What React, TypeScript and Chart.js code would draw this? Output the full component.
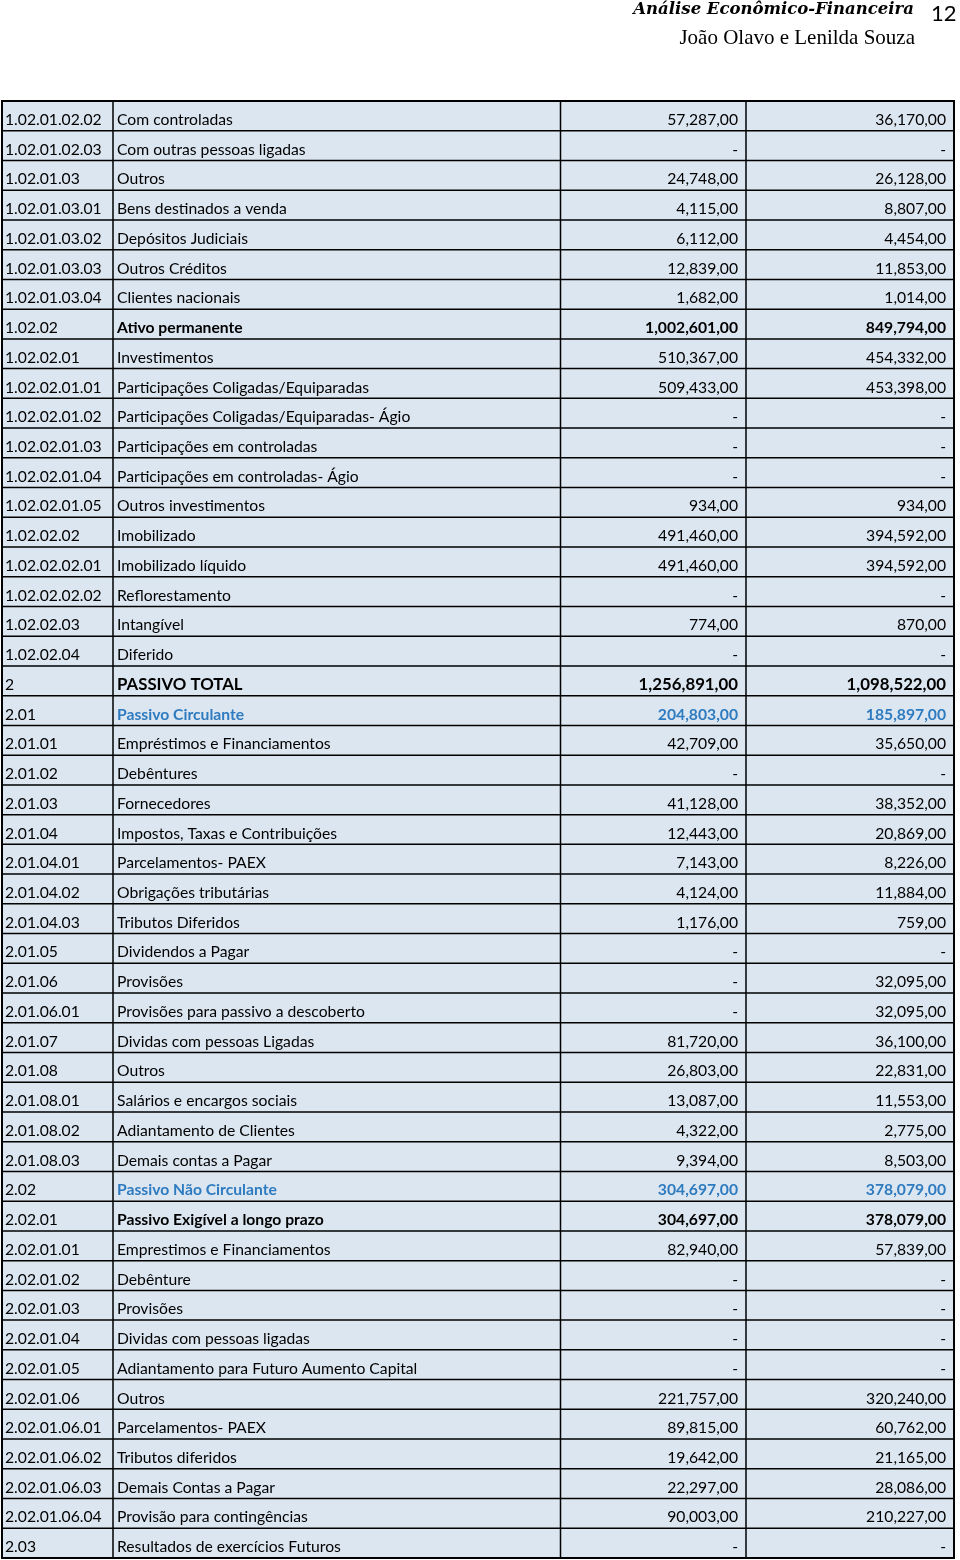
import React, { useEffect, useRef } from "react";
import { Chart, registerables } from "chart.js";
Chart.register(...registerables);

// ---------- data ----------
const codes: string[] = [
  "1.02.01.02.02", "1.02.01.02.03", "1.02.01.03", "1.02.01.03.01", "1.02.01.03.02",
  "1.02.01.03.03", "1.02.01.03.04", "1.02.02", "1.02.02.01", "1.02.02.01.01",
  "1.02.02.01.02", "1.02.02.01.03", "1.02.02.01.04", "1.02.02.01.05", "1.02.02.02",
  "1.02.02.02.01", "1.02.02.02.02", "1.02.02.03", "1.02.02.04", "2",
  "2.01", "2.01.01", "2.01.02", "2.01.03", "2.01.04",
  "2.01.04.01", "2.01.04.02", "2.01.04.03", "2.01.05", "2.01.06",
  "2.01.06.01", "2.01.07", "2.01.08", "2.01.08.01", "2.01.08.02",
  "2.01.08.03", "2.02", "2.02.01", "2.02.01.01", "2.02.01.02",
  "2.02.01.03", "2.02.01.04", "2.02.01.05", "2.02.01.06", "2.02.01.06.01",
  "2.02.01.06.02", "2.02.01.06.03", "2.02.01.06.04", "2.03",
];

const descriptions: string[] = [
  "Com controladas", "Com outras pessoas ligadas", "Outros", "Bens destinados a venda", "Depósitos Judiciais",
  "Outros Créditos", "Clientes nacionais", "Ativo permanente", "Investimentos", "Participações Coligadas/Equiparadas",
  "Participações Coligadas/Equiparadas- Ágio", "Participações em controladas", "Participações em controladas- Ágio", "Outros investimentos", "Imobilizado",
  "Imobilizado líquido", "Reflorestamento", "Intangível", "Diferido", "PASSIVO TOTAL",
  "Passivo Circulante", "Empréstimos e Financiamentos", "Debêntures", "Fornecedores", "Impostos, Taxas e Contribuições",
  "Parcelamentos- PAEX", "Obrigações tributárias", "Tributos Diferidos", "Dividendos a Pagar", "Provisões",
  "Provisões para passivo a descoberto", "Dividas com pessoas Ligadas", "Outros", "Salários e encargos sociais", "Adiantamento de Clientes",
  "Demais contas a Pagar", "Passivo Não Circulante", "Passivo Exigível a longo prazo", "Emprestimos e Financiamentos", "Debênture",
  "Provisões", "Dividas com pessoas ligadas", "Adiantamento para Futuro Aumento Capital", "Outros", "Parcelamentos- PAEX",
  "Tributos diferidos", "Demais Contas a Pagar", "Provisão para contingências", "Resultados de exercícios Futuros",
];

const valuesA: (number | null)[] = [
  57287, null, 24748, 4115, 6112,
  12839, 1682, 1002601, 510367, 509433,
  null, null, null, 934, 491460,
  491460, null, 774, null, 1256891,
  204803, 42709, null, 41128, 12443,
  7143, 4124, 1176, null, null,
  null, 81720, 26803, 13087, 4322,
  9394, 304697, 304697, 82940, null,
  null, null, null, 221757, 89815,
  19642, 22297, 90003, null,
];

const valuesB: (number | null)[] = [
  36170, null, 26128, 8807, 4454,
  11853, 1014, 849794, 454332, 453398,
  null, null, null, 934, 394592,
  394592, null, 870, null, 1098522,
  185897, 35650, null, 38352, 20869,
  8226, 11884, 759, null, 32095,
  32095, 36100, 22831, 11553, 2775,
  8503, 378079, 378079, 57839, null,
  null, null, null, 320240, 60762,
  21165, 28086, 210227, null,
];

// row emphasis (by code)
const boldRows = ["1.02.02", "2", "2.01", "2.02", "2.02.01"];
const blueRows = ["2.01", "2.02"];
const bigRows = ["2"];

// ---------- layout options ----------
const X_MAX = 952;
const colBounds = [0, 111, 558.5, 744, 952];
const FONT = "Lato, 'Open Sans', sans-serif";

function fmt(v: number | null): string {
  if (v === null) return "-";
  const s = Math.round(v).toString().replace(/\B(?=(\d{3})+(?!\d))/g, ",");
  return s + ",00";
}

const tablePlugin = {
  id: "tablePlugin",
  beforeDatasetsDraw(chart: any) {
    const { ctx, chartArea } = chart;
    ctx.save();
    ctx.fillStyle = "#dce6f1";
    ctx.fillRect(chartArea.left, chartArea.top, chartArea.right - chartArea.left, chartArea.bottom - chartArea.top);
    ctx.textBaseline = "middle";
    chart.data.datasets.forEach((ds: any, di: number) => {
      const meta = chart.getDatasetMeta(di);
      meta.data.forEach((el: any, i: number) => {
        const code = codes[i];
        const bold = di > 0 && boldRows.includes(code);
        const size = di > 0 && bigRows.includes(code) ? 16.8 : 15.7;
        ctx.font = `${bold ? "bold " : ""}${size}px ${FONT}`;
        ctx.fillStyle = blueRows.includes(code) && di > 0 ? "#2e7bbf" : "#000000";
        ctx.textAlign = ds.textAlign;
        ctx.fillText(ds.texts[i], el.x, el.y + 4);
      });
    });
    ctx.restore();
  },
  afterDatasetsDraw(chart: any) {
    const { ctx, chartArea, scales } = chart;
    const y = scales.y;
    const x = scales.x;
    const n = codes.length;
    ctx.save();
    ctx.strokeStyle = "#000000";
    ctx.lineWidth = 1.5;
    const step = n > 1 ? y.getPixelForValue(1) - y.getPixelForValue(0) : 0;
    for (let i = 1; i < n; i++) {
      const yy = y.getPixelForValue(i) - step / 2;
      ctx.beginPath();
      ctx.moveTo(chartArea.left, yy);
      ctx.lineTo(chartArea.right, yy);
      ctx.stroke();
    }
    for (let c = 1; c < colBounds.length - 1; c++) {
      const xx = x.getPixelForValue(colBounds[c]);
      ctx.beginPath();
      ctx.moveTo(xx, chartArea.top);
      ctx.lineTo(xx, chartArea.bottom);
      ctx.stroke();
    }
    ctx.lineWidth = 2;
    ctx.strokeRect(chartArea.left, chartArea.top, chartArea.right - chartArea.left, chartArea.bottom - chartArea.top);
    ctx.restore();
  },
};

function App() {
  const ref = useRef<HTMLCanvasElement | null>(null);
  useEffect(() => {
    if (!ref.current) return;
    const mk = (xv: number) => codes.map((c) => ({ x: xv, y: c }));
    const chart = new Chart(ref.current, {
      type: "scatter",
      data: {
        datasets: [
          { label: "Código", data: mk(colBounds[0] + 3), texts: codes, textAlign: "left", pointRadius: 0 } as any,
          { label: "Descrição", data: mk(colBounds[1] + 4), texts: descriptions, textAlign: "left", pointRadius: 0 } as any,
          { label: "Valor A", data: mk(colBounds[3] - 8), texts: valuesA.map(fmt), textAlign: "right", pointRadius: 0 } as any,
          { label: "Valor B", data: mk(colBounds[4] - 8), texts: valuesB.map(fmt), textAlign: "right", pointRadius: 0 } as any,
        ],
      },
      options: {
        animation: false,
        responsive: false,
        maintainAspectRatio: false,
        events: [],
        layout: { padding: { left: 2, top: 101, right: 6, bottom: 2 } },
        plugins: { legend: { display: false }, tooltip: { enabled: false } },
        scales: {
          x: { type: "linear", min: 0, max: X_MAX, display: false },
          y: { type: "category", labels: codes, offset: true, display: false },
        },
      },
      plugins: [tablePlugin],
    });
    return () => chart.destroy();
  }, []);

  return (
    <div style={{ position: "absolute", left: 0, top: 0, width: 960, height: 1560, background: "#fff" }}>
      <canvas ref={ref} width={960} height={1560} style={{ position: "absolute", left: 0, top: 0, width: 960, height: 1560 }} />
      <div
        style={{
          position: "absolute", right: 46, top: -1, fontFamily: "'DejaVu Serif', serif", fontStyle: "italic",
          fontWeight: "bold", fontSize: 16.5, whiteSpace: "nowrap", color: "#000",
        }}
      >
        Análise Econômico-Financeira
      </div>
      <div style={{ position: "absolute", left: 931, top: -1, fontFamily: FONT, fontSize: 22, color: "#000" }}>12</div>
      <div
        style={{
          position: "absolute", right: 45, top: 25, fontFamily: "'Liberation Serif', serif", fontSize: 21,
          whiteSpace: "nowrap", color: "#000",
        }}
      >
        João Olavo e Lenilda Souza
      </div>
    </div>
  );
}

export default App;
